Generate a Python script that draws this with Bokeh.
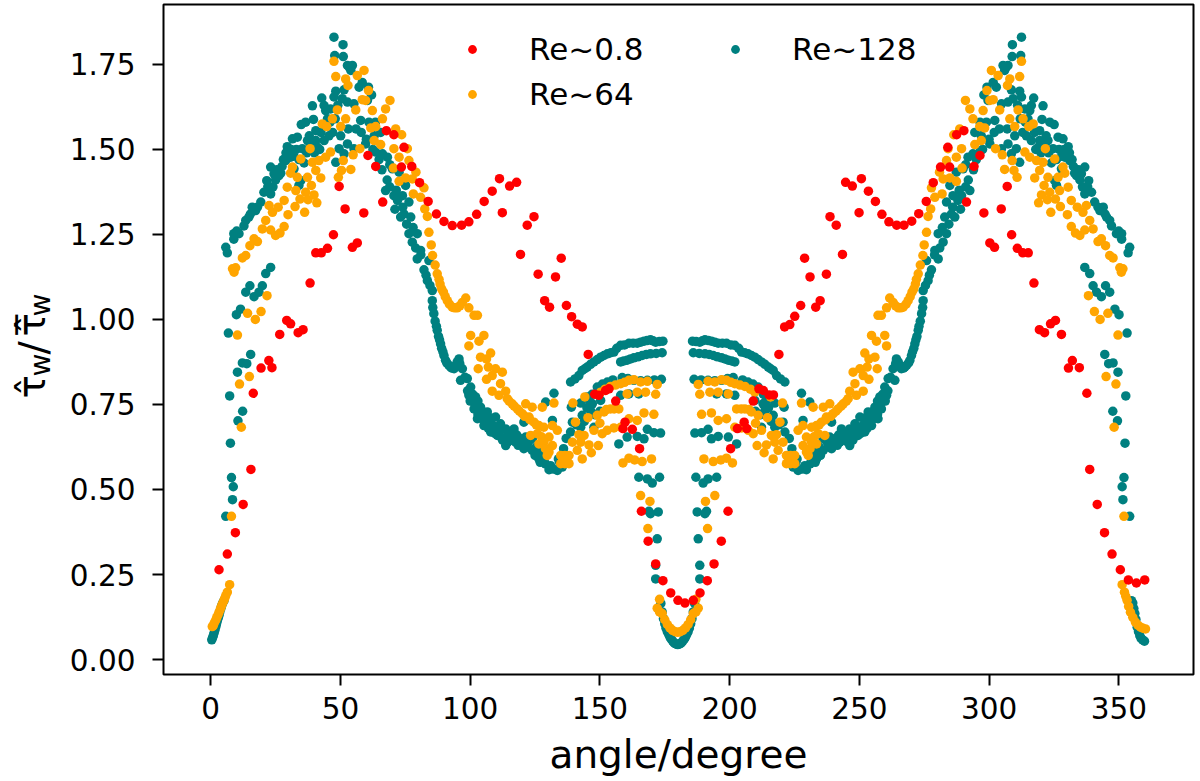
from bokeh.plotting import figure
from bokeh.layouts import row
from bokeh.core.properties import value
from bokeh.models import Legend, LegendItem, FixedTicker, NumeralTickFormatter, Range1d
from bokeh.embed import file_html
from bokeh.resources import INLINE

x_ticks = [0, 50, 100, 150, 200, 250, 300, 350]
y_ticks = [0.0, 0.25, 0.5, 0.75, 1.0, 1.25, 1.5, 1.75]
legend_labels = ["Re~0.8", "Re~64", "Re~128"]

red_left = [(3.2,.264),(6.4,.31),(9.5,.373),(12.5,.456),(15.5,.559),(16.4,.783),(19.4,.857),(22.4,.879),(23.6,.858),(26.6,.956),(29.3,.997),(30.8,.987),(33.7,.961),(35.6,.97),(38.3,1.107),(40.5,1.196),(42.6,1.196),(45,1.209),(47.3,1.249),(49.5,1.391),(51.8,1.325),(54.6,1.212),(56.5,1.225),(59,1.313),(60.6,1.482),(63.6,1.45),(66.3,1.345),(67.7,1.555),(70.6,1.543),(73.5,1.448),(74.5,1.506),(77.5,1.45),(80.5,1.402),(83.8,1.347),(87,1.31),(89.9,1.288),(93.1,1.276),(96.7,1.277),(99.5,1.287),(102.5,1.309),(105.4,1.347),(108.5,1.377),(111.3,1.414),(112.4,1.314),(115.2,1.392),(117.9,1.403),(119.4,1.191),(122,1.277),(124.6,1.302),(126.2,1.133),(128.7,1.055),(130.6,1.036),(132.9,1.125),(135.1,1.18),(137.1,1.041),(139.1,1.008),(141.3,.986),(143.2,.978),(145.5,.897),(148,.78),(149.6,.777),(152.2,.791),(153.5,.796),(156.1,.76),(158.9,.679),(159.7,.698),(162.5,.677),(165.3,.62),(166,.436),(168.6,.348),(171.5,.281),(174.3,.232),(177.3,.196),(180.1,.174),(182.8,.166)]
red_right = [(186,.174),(188.6,.196),(191.4,.232),(194,.281),(196.8,.348),(199.4,.436),(200.4,.62),(203,.679),(205.6,.698),(206.6,.679),(209.1,.76),(211.3,.796),(213,.791),(215.2,.778),(216.9,.778),(219,.897),(221.2,.978),(223.2,.985),(225.1,1.009),(227.4,1.041),(228.9,1.18),(231,1.125),(233.2,1.036),(234.9,1.055),(237.3,1.133),(238.7,1.302),(241.1,1.277),(243.5,1.191),(244.7,1.403),(247.3,1.392),(249.9,1.314),(250.8,1.414),(253.5,1.377),(256.2,1.347),(258.7,1.309),(261.4,1.287),(264.4,1.277),(267.2,1.277),(270.2,1.289),(272.9,1.311),(275.8,1.347),(278.5,1.402),(281.3,1.448),(284.1,1.506),(284.8,1.448),(287.5,1.543),(290.3,1.555),(291.3,1.345),(294.2,1.45),(296.5,1.482),(298,1.313),(300.3,1.225),(302.1,1.212),(304.7,1.325),(307,1.391),(308.7,1.249),(310.9,1.209),(313,1.196),(315.1,1.196),(317.3,1.107),(319.4,.97),(321.4,.961),(323.7,.987),(325.6,.997),(327.9,.956),(330.6,.857),(332.1,.879),(334.8,.858),(337.7,.783),(338.8,.559),(341.7,.456),(344.5,.373),(347.4,.31),(350.6,.264),(353.7,.234),(356.8,.225),(360,.234)]

orange_left = [(.6,.097),(1,.1),(1.4,.108),(1.9,.115),(2.3,.123),(2.8,.131),(3.2,.139),(3.7,.148),(4.1,.156),(4.5,.164),(5,.172),(5.4,.18),(5.8,.188),(6.4,.198),(7.3,.22),(8,.421),(11.8,.683),(11.1,.81),(14.9,.832),(10.3,.954),(14.2,1.018),(17.2,1,),(19.4,1.023),(21.7,1.07),(8.4,1.149),(9.6,1.152),(9,1.139),(12.2,1.181),(13.5,1.188),(15.1,1.217),(16.7,1.237),(18,1.229),(19.9,1.266),(21.2,1.291),(23.1,1.263),(25,1.247),(26.7,1.254),(28.3,1.273),(22.5,1.335),(23.8,1.315),(26,1.33),(28.3,1.35),(29.8,1.308),(29.5,1.389),(32.5,1.332),(32.8,1.379),(34.4,1.354),(36.2,1.315),(36.6,1.374),(37.5,1.352),(38.8,1.394),(39.8,1.366),(40.9,1.343),(30.8,1.43),(31.5,1.448),(33.4,1.418),(34.7,1.472),(37.3,1.418),(39.2,1.462),(40.5,1.438),(41.7,1.467),(42.4,1.416),(44.3,1.477),(46.2,1.492),(38.3,1.502),(43,1.575),(44.7,1.567),(46.9,1.59),(48.8,1.616),(50.1,1.567),(52,1.59),(49.2,1.418),(50.4,1.438),(51.1,1.467),(54,1.441),(54.9,1.484),(57.5,1.502),(55.9,1.616),(47.5,1.759),(48.2,1.714),(52,1.707),(52.9,1.688),(56.5,1.717),(59.1,1.732),(60.8,1.673),(58.4,1.646),(59.7,1.644),(69.1,1.644),(67.4,1.619),(62.3,1.614),(66.2,1.59),(63.6,1.567),(61.7,1.563),(71.3,1.56),(73.6,1.543),(63,1.526),(65.5,1.514),(70.6,1.502),(75.8,1.502),(72.6,1.477),(76.4,1.467),(70.4,1.445),(79.1,1.433),(77.7,1.413),(72.6,1.406),(75.1,1.416),(82.2,1.387),(78.1,1.369),(80.9,1.359),(82.5,1.325),(83.5,1.303),(84.1,1.256),(85,1.219),(85.5,1.188),(86.5,1.16),(87.3,1.134),(88,1.118),(88.4,1.104),(89,1.09),(89.7,1.08),(90.4,1.067),(91.2,1.055),(92,1.045),(93.1,1.036),(94,1.034),(95,1.034),(96,1.04),(97,1.05),(98.3,1.063),(99.5,1.034),(101.5,1.012),(102.8,1.012),(100.2,.953),(105.3,.953),(103.4,.936),(99.5,.922),(107.9,.901),(104,.889),(106.3,.884),(103.1,.855),(107,.86),(109.8,.855),(112.4,.845),(108.5,.835),(106.3,.824),(111.7,.811),(108.5,.789),(113.7,.789),(111.1,.777),(114.3,.767),(115,.76),(116.2,.752),(117,.745),(118.2,.737),(119,.73),(121.4,.752),(123.9,.742),(120.1,.723),(121,.715),(122.7,.713),(123,.705),(124.6,.698),(125.5,.69),(127.8,.742),(126.5,.688),(128.4,.683),(131.7,.688),(133.6,.674),(123.3,.659),(125.9,.664),(127.5,.655),(130.4,.654),(126.5,.634),(128.4,.639),(129,.62),(131.7,.629),(130.4,.61),(129.7,.6),(134.9,.6),(136.5,.6),(138.1,.6),(134.9,.576),(135.7,.59),(136.5,.576),(137.3,.59),(138.1,.576),(139.4,.639),(142.6,.639),(141.3,.615),(143.2,.59),(146.7,.608),(149.4,.629),(145.8,.631),(132.3,.754),(139.6,.754),(144.2,.772),(140.6,.698),(145.4,.711),(141.9,.661),(143.9,.659),(147.7,.674),(150,.695),(149,.718),(151.6,.728),(152.5,.735),(154.1,.737),(155.5,.737),(157.3,.737),(150.9,.664),(152.8,.674),(155.4,.681),(158,.683),(161.2,.708),(164.4,.703),(167,.725),(170.8,.721),(150.3,.786),(152,.795),(154.1,.803),(156,.807),(158,.811),(159.5,.815),(161.2,.821),(163.1,.823),(165.7,.816),(168.3,.818),(172.1,.809),(160.5,.781),(164.4,.786),(167.6,.786),(171.5,.78),(158.9,.578),(161.2,.592),(163.4,.587),(166.3,.582),(169.9,.59),(165.7,.482),(169.3,.465),(168.5,.385),(173,.177),(172.1,.151),(173,.14),(174,.135),(175,.117),(176,.103),(177,.093),(178,.086),(179,.082),(180,.08)]
orange_right = [(181,.082),(182,.086),(183,.093),(184,.103),(185,.117),(186,.135),(187,.14),(187.9,.151),(187,.177),(191.5,.385),(190.7,.465),(194.3,.482),(190.1,.59),(193.7,.582),(196.6,.587),(198.8,.592),(201.1,.578),(188.5,.78),(192.4,.786),(195.6,.786),(199.5,.781),(187.9,.809),(191.7,.818),(194.3,.816),(196.9,.823),(198.8,.821),(200.5,.815),(202,.811),(204,.807),(205.9,.803),(208,.795),(209.7,.786),(189.2,.721),(193,.725),(195.6,.703),(198.8,.708),(202,.683),(204.6,.681),(207.2,.674),(209.1,.664),(202.7,.737),(204.5,.737),(205.9,.737),(207.5,.735),(208.4,.728),(211,.718),(210,.695),(212.3,.674),(216.1,.659),(218.1,.661),(214.6,.711),(219.4,.698),(215.8,.772),(220.4,.754),(227.7,.754),(214.2,.631),(210.6,.629),(213.3,.608),(216.8,.59),(218.7,.615),(217.4,.639),(220.6,.639),(221.9,.576),(222.7,.59),(223.5,.576),(224.3,.59),(225.1,.576),(221.9,.6),(223.5,.6),(225.1,.6),(230.3,.6),(229.6,.61),(228.3,.629),(231,.62),(231.6,.639),(233.5,.634),(229.6,.654),(232.5,.655),(234.1,.664),(236.7,.659),(226.4,.674),(228.3,.688),(231.6,.683),(233.5,.688),(232.2,.742),(234.5,.69),(235.4,.698),(237,.705),(237.3,.713),(239,.715),(239.9,.723),(236.1,.742),(238.6,.752),(241,.73),(241.8,.737),(243,.745),(243.8,.752),(245,.76),(245.7,.767),(248.9,.777),(246.3,.789),(251.5,.789),(248.3,.811),(253.7,.824),(251.5,.835),(247.6,.845),(250.2,.855),(253,.86),(256.9,.855),(253.7,.884),(256,.889),(252.1,.901),(260.5,.922),(256.6,.936),(254.7,.953),(259.8,.953),(257.2,1.012),(258.5,1.012),(260.5,1.034),(261.7,1.063),(263,1.05),(264,1.04),(265,1.034),(266,1.034),(266.9,1.036),(268,1.045),(268.8,1.055),(269.6,1.067),(270.3,1.08),(271,1.09),(271.6,1.104),(272,1.118),(272.7,1.134),(273.5,1.16),(274.5,1.188),(275,1.219),(275.9,1.256),(276.5,1.303),(277.5,1.325),(279.1,1.359),(281.9,1.369),(277.8,1.387),(284.9,1.416),(287.4,1.406),(282.3,1.413),(280.9,1.433),(289.6,1.445),(283.6,1.467),(287.4,1.477),(284.2,1.502),(289.4,1.502),(294.5,1.514),(297,1.526),(286.4,1.543),(288.7,1.56),(298.3,1.563),(296.4,1.567),(293.8,1.59),(297.7,1.614),(292.6,1.619),(290.9,1.644),(300.3,1.644),(301.6,1.646),(299.2,1.673),(300.9,1.732),(303.5,1.717),(307.1,1.688),(308,1.707),(311.8,1.714),(312.5,1.759),(304.1,1.616),(302.5,1.502),(305.1,1.484),(306,1.441),(308.9,1.467),(309.6,1.438),(310.8,1.418),(308,1.59),(309.9,1.567),(311.2,1.616),(313.1,1.59),(315.3,1.567),(317,1.575),(321.7,1.502),(313.8,1.492),(315.7,1.477),(317.6,1.416),(318.3,1.467),(319.5,1.438),(320.8,1.462),(322.7,1.418),(325.3,1.472),(326.6,1.418),(328.5,1.448),(329.2,1.43),(319.1,1.343),(320.2,1.366),(321.2,1.394),(322.5,1.352),(323.4,1.374),(323.8,1.315),(325.6,1.354),(327.2,1.379),(327.5,1.332),(330.5,1.389),(330.2,1.308),(331.7,1.35),(334,1.33),(336.2,1.315),(337.5,1.335),(331.7,1.273),(333.3,1.254),(335,1.247),(336.9,1.263),(338.8,1.291),(340.1,1.266),(342,1.229),(343.3,1.237),(344.9,1.217),(346.5,1.188),(347.8,1.181),(350.4,1.152),(351.6,1.149),(351,1.139),(338.3,1.07),(340.6,1.023),(342.8,1,),(345.8,1.018),(349.7,.954),(345.1,.832),(348.9,.81),(348.2,.683),(352,.421),(351.3,.22),(352.2,.198),(352.7,.186),(353.2,.174),(353.8,.156),(354.5,.139),(355.4,.124),(356.4,.11),(357.4,.101),(358.4,.095),(359.3,.092),(360.3,.09)]

teal_left = [(.4,.058),(.7,.064),(1,.07),(1.3,.078),(1.6,.086),(1.9,.095),(2.2,.103),(2.5,.112),(2.9,.122),(3.2,.13),(3.5,.14),(3.9,.15),(4.2,.158),(4.6,.166),(5.1,.173),(5.8,.421),(8.4,.47),(8.7,.508),(8,.535),(7.6,.636),(10.5,.702),(12.3,.73),(7.3,.775),(10.3,.845),(12.2,.872),(13.9,.87),(15.4,.897),(6.8,.96),(9.9,1.014),(11.5,1.03),(16.7,1.067),(13.5,1.08),(18.6,1.08),(15.1,1.099),(19.9,1.099),(21.2,1.135),(23.1,1.153),(5.8,1.212),(6.4,1.196),(8.9,1.252),(8.9,1.236),(10,1.26),(10.9,1.252),(12.8,1.275),(13.5,1.291),(14.7,1.301),(15.3,1.31),(16,1.33),(17.3,1.32),(18,1.33),(19.3,1.345),(20.5,1.374),(22,1.39),(23.1,1.369),(21.6,1.408),(23.1,1.448),(24.4,1.428),(25.5,1.44),(26.3,1.423),(27.5,1.45),(28.9,1.467),(30,1.49),(30.8,1.477),(32.1,1.443),(34.7,1.408),(34,1.394),(33,1.5),(37,1.49),(38.5,1.51),(42.5,1.55),(45,1.59),(47,1.55),(29.5,1.508),(31.5,1.531),(33.4,1.536),(34.9,1.573),(36.6,1.58),(39.6,1.588),(35.3,1.502),(37.3,1.526),(40.5,1.526),(40.5,1.555),(41.1,1.506),(43.7,1.526),(45.6,1.54),(39.2,1.628),(42.8,1.651),(43.7,1.629),(44.3,1.614),(46.2,1.619),(47.5,1.654),(48.2,1.671),(51.4,1.675),(50.7,1.649),(52.7,1.639),(55.2,1.634),(60.4,1.644),(57.8,1.585),(50.1,1.54),(49.5,1.502),(52.7,1.516),(55.2,1.502),(59.7,1.516),(48.2,1.462),(51.4,1.487),(47.5,1.83),(51,1.808),(47.8,1.776),(51.1,1.773),(52.7,1.747),(54.6,1.747),(54,1.732),(53.5,1.74),(58.4,1.697),(57.2,1.683),(60.8,1.683),(62,1.66),(63.5,1.58),(65.5,1.55),(60,1.53),(62.5,1.5),(63.6,1.492),(64.9,1.47),(66.2,1.487),(68.1,1.477),(69,1.455),(70,1.443),(72.6,1.433),(68,1.41),(75.1,1.394),(71.5,1.38),(67.4,1.379),(70.6,1.364),(73.9,1.364),(76.4,1.345),(74,1.33),(71,1.324),(73.2,1.301),(75.5,1.28),(77.1,1.301),(78,1.27),(76.4,1.252),(79.6,1.252),(77.7,1.227),(79,1.21),(80.9,1.203),(81,1.19),(79.6,1.178),(84.1,1.173),(82.2,1.146),(83,1.13),(83.5,1.114),(84.5,1.1),(85.4,1.085),(85.4,1.055),(86,1.017),(87.3,.968),(88.6,.928),(89.9,.894),(91.8,.865),(93.8,.855),(95.7,.884),(97,.855),(96.3,.821),(98,.83),(98.9,.826),(100.2,.801),(99.5,.777),(101,.78),(102.1,.772),(103,.76),(101.5,.737),(103,.72),(104,.742),(105,.72),(106.6,.728),(102.8,.708),(107,.7),(108,.71),(109.8,.713),(111.7,.693),(105.3,.688),(107.9,.669),(110,.68),(110.5,.659),(112,.675),(113.7,.678),(114,.655),(116.9,.678),(120.7,.698),(113.7,.629),(116,.645),(116.9,.664),(118,.66),(119.5,.649),(121.4,.654),(117.5,.639),(120,.63),(120.7,.62),(122,.625),(123.9,.615),(124,.65),(125,.6),(127.2,.61),(126.5,.59),(127,.58),(128.4,.585),(129,.575),(130.4,.558),(132,.56),(133.6,.556),(134,.59),(135.5,.566),(129.1,.757),(132.3,.783),(131.7,.703),(137,.6),(136,.62),(137,.65),(138.7,.669),(138.7,.816),(141.9,.835),(143.2,.85),(145.1,.86),(147.7,.875),(150.3,.889),(152.9,.899),(155.4,.904),(158,.924),(161.2,.93),(164.4,.93),(167,.936),(169.5,.94),(171.5,.933),(174.3,.936),(158,.875),(160.5,.88),(163.1,.887),(166.3,.894),(169.5,.899),(174,.902),(139,.742),(142.6,.754),(145.1,.772),(147,.78),(149,.801),(152.9,.816),(158.6,.829),(163.1,.821),(168.3,.821),(173.7,.824),(139.4,.698),(141,.69),(143.2,.718),(144,.7),(145,.74),(146,.76),(147.1,.752),(148,.72),(150,.73),(150.3,.762),(158,.777),(161.2,.781),(165,.781),(142.6,.683),(147.7,.683),(146.4,.732),(157.3,.634),(160.5,.654),(164.4,.656),(167,.649),(168.3,.677),(170.8,.667),(173.4,.666),(165,.536),(168.3,.531),(170.2,.519),(173,.536),(168.9,.436),(169.5,.429),(172.5,.434),(172.1,.355),(171.5,.277),(171.5,.237),(173.5,.165),(174,.14),(174.5,.12),(175,.105),(175.5,.092),(176,.082),(176.5,.074),(177,.066),(177.5,.06),(178,.055),(178.5,.05),(179,.047),(179.5,.045),(180,.044)]
teal_left_dense = [(85.6,1.035),(86.5,.995),(87,.98),(87.8,.95),(88.2,.94),(89,.915),(89.5,.905),(90.5,.88),(91,.872),(92.5,.86),(93,.857),(94.5,.865),(95,.875),(96,.87),(99,.79),(100,.76),(101.5,.755),(102.5,.745),(104,.72),(105,.705),(106,.71),(107,.68),(108.5,.69),(109.5,.665),(111,.66),(112.5,.645),(114.5,.64),(115.5,.665),(118.5,.63),(122.5,.64),(125.5,.625),(128,.6),(131,.57),(134.5,.58),(156.5,.915),(159.5,.925),(162.8,.93),(165.7,.933),(168.2,.938),(170.5,.937),(172.9,.935),(159.2,.878),(161.8,.884),(164.7,.89),(167.9,.897),(171.7,.9),(140.4,.825),(144.2,.855),(146.4,.868),(149,.882),(151.6,.894),(154.2,.902),(151,.81),(155,.822),(160.8,.826),(165.7,.82),(171,.822),(24,1.39),(25,1.41),(27,1.43),(28,1.47),(29,1.49),(31,1.5),(32,1.48),(34,1.47),(36,1.46),(38,1.54),(40,1.49),(42,1.5),(44,1.57),(46,1.58),(48,1.59),(49,1.63),(53,1.56),(56,1.56),(58,1.55),(61,1.58),(63,1.54),(66,1.44),(69,1.39),(72,1.35),(74.5,1.31)]
teal_right = [(180.5,.045),(181,.047),(181.5,.05),(182,.055),(182.5,.06),(183,.066),(183.5,.074),(184,.082),(184.5,.092),(185,.105),(185.5,.12),(186,.14),(186.5,.165),(188.5,.237),(188.5,.277),(187.9,.355),(187.5,.434),(190.5,.429),(191.1,.436),(187,.536),(189.8,.519),(191.7,.531),(195,.536),(186.6,.666),(189.2,.667),(191.7,.677),(193,.649),(195.6,.656),(199.5,.654),(202.7,.634),(213.6,.732),(212.3,.683),(217.4,.683),(195,.781),(198.8,.781),(202,.777),(209.7,.762),(210,.73),(212,.72),(212.9,.752),(214,.76),(215,.74),(216,.7),(216.8,.718),(219,.69),(220.6,.698),(186.3,.824),(191.7,.821),(196.9,.821),(201.4,.829),(207.1,.816),(211,.801),(213,.78),(214.9,.772),(217.4,.754),(221,.742),(186,.902),(190.5,.899),(193.7,.894),(196.9,.887),(199.5,.88),(202,.875),(185.7,.936),(188.5,.933),(190.5,.94),(193,.936),(195.6,.93),(198.8,.93),(202,.924),(204.6,.904),(207.1,.899),(209.7,.889),(212.3,.875),(214.9,.86),(216.8,.85),(218.1,.835),(221.3,.816),(221.3,.669),(223,.65),(224,.62),(223,.6),(228.3,.703),(227.7,.783),(230.9,.757),(224.5,.566),(226,.59),(226.4,.556),(228,.56),(229.6,.558),(231,.575),(231.6,.585),(233,.58),(233.5,.59),(232.8,.61),(235,.6),(236,.65),(236.1,.615),(238,.625),(239.3,.62),(240,.63),(242.5,.639),(238.6,.654),(240.5,.649),(242,.66),(243.1,.664),(244,.645),(246.3,.629),(239.3,.698),(243.1,.678),(246,.655),(246.3,.678),(248,.675),(249.5,.659),(250,.68),(252.1,.669),(254.7,.688),(248.3,.693),(250.2,.713),(252,.71),(253,.7),(253.4,.728),(255,.72),(256,.742),(257,.72),(257.2,.708),(258.5,.737),(257,.76),(257.9,.772),(259,.78),(260.5,.777),(259.8,.801),(261.1,.826),(262,.83),(263.7,.821),(263,.855),(264.3,.884),(266.2,.855),(268.2,.865),(270.1,.894),(271.4,.928),(272.7,.968),(274,1.017),(274.6,1.055),(274.6,1.085),(275.5,1.1),(276.5,1.114),(277,1.13),(277.8,1.146),(275.9,1.173),(280.4,1.178),(279,1.19),(279.1,1.203),(281,1.21),(282.3,1.227),(280.4,1.252),(283.6,1.252),(282,1.27),(282.9,1.301),(284.5,1.28),(286.8,1.301),(289,1.324),(286,1.33),(283.6,1.345),(286.1,1.364),(289.4,1.364),(292.6,1.379),(288.5,1.38),(284.9,1.394),(292,1.41),(287.4,1.433),(290,1.443),(291,1.455),(291.9,1.477),(293.8,1.487),(295.1,1.47),(296.4,1.492),(297.5,1.5),(300,1.53),(294.5,1.55),(296.5,1.58),(298,1.66),(299.2,1.683),(302.8,1.683),(301.6,1.697),(306.5,1.74),(306,1.732),(305.4,1.747),(307.3,1.747),(308.9,1.773),(312.2,1.776),(309,1.808),(312.5,1.83),(308.6,1.487),(311.8,1.462),(300.3,1.516),(304.8,1.502),(307.3,1.516),(310.5,1.502),(309.9,1.54),(302.2,1.585),(299.6,1.644),(304.8,1.634),(307.3,1.639),(309.3,1.649),(308.6,1.675),(311.8,1.671),(312.5,1.654),(313.8,1.619),(315.7,1.614),(316.3,1.629),(317.2,1.651),(320.8,1.628),(314.4,1.54),(316.3,1.526),(318.9,1.506),(319.5,1.555),(319.5,1.526),(322.7,1.526),(324.7,1.502),(320.4,1.588),(323.4,1.58),(325.1,1.573),(326.6,1.536),(328.5,1.531),(330.5,1.508),(313,1.55),(315,1.59),(317.5,1.55),(321.5,1.51),(323,1.49),(327,1.5),(326,1.394),(325.3,1.408),(327.9,1.443),(329.2,1.477),(330,1.49),(331.1,1.467),(332.5,1.45),(333.7,1.423),(334.5,1.44),(335.6,1.428),(336.9,1.448),(338.4,1.408),(336.9,1.369),(338,1.39),(339.5,1.374),(340.7,1.345),(342,1.33),(342.7,1.32),(344,1.33),(344.7,1.31),(345.3,1.301),(346.5,1.291),(347.2,1.275),(349.1,1.252),(350,1.26),(351.1,1.236),(351.1,1.252),(353.6,1.196),(354.2,1.212),(336.9,1.153),(338.8,1.135),(340.1,1.099),(344.9,1.099),(341.4,1.08),(346.5,1.08),(343.3,1.067),(348.5,1.03),(350.1,1.014),(353.2,.96),(344.6,.897),(346.1,.87),(347.8,.872),(349.7,.845),(352.7,.775),(347.7,.73),(349.5,.702),(352.4,.636),(352,.535),(351.3,.508),(351.6,.47),(354.2,.421),(354.9,.173),(355.4,.166),(355.8,.15),(356.2,.135),(356.6,.118),(357.1,.095),(357.6,.082),(358.1,.07),(358.6,.062),(359.2,.058),(359.9,.054)]
teal_right_dense = [(274.4,1.035),(273.5,.995),(273,.98),(272.2,.95),(271.8,.94),(271,.915),(270.5,.905),(269.5,.88),(269,.872),(267.5,.86),(267,.857),(265.5,.865),(265,.875),(264,.87),(261,.79),(260,.76),(258.5,.755),(257.5,.745),(256,.72),(255,.705),(254,.71),(253,.68),(251.5,.69),(250.5,.665),(249,.66),(247.5,.645),(245.5,.64),(244.5,.665),(241.5,.63),(237.5,.64),(234.5,.625),(232,.6),(229,.57),(225.5,.58),(203.5,.915),(200.5,.925),(197.2,.93),(194.3,.933),(191.8,.938),(189.5,.937),(187.1,.935),(200.8,.878),(198.2,.884),(195.3,.89),(192.1,.897),(188.3,.9),(219.6,.825),(215.8,.855),(213.6,.868),(211,.882),(208.4,.894),(205.8,.902),(209,.81),(205,.822),(199.2,.826),(194.3,.82),(189,.822),(336,1.39),(335,1.41),(333,1.43),(332,1.47),(331,1.49),(329,1.5),(328,1.48),(326,1.47),(324,1.46),(322,1.54),(320,1.49),(318,1.5),(316,1.57),(314,1.58),(312,1.59),(311,1.63),(307,1.56),(304,1.56),(302,1.55),(299,1.58),(297,1.54),(294,1.44),(291,1.39),(288,1.35),(285.5,1.31)]

TEAL, ORANGE, RED = "#008080", "#ffa500", "#ff0000"

p = figure(frame_width=1030, frame_height=670, width=1129, height=776,
           x_range=Range1d(-18.2, 378.8), y_range=Range1d(-0.044, 1.926),
           min_border_left=97, min_border_right=2, min_border_top=4, min_border_bottom=102,
           output_backend="svg", toolbar_location=None,
           background_fill_color="white", border_fill_color="white")

def draw(pts, color):
    return p.scatter([a for a, _ in pts], [b for _, b in pts], size=9.5, color=color, line_color=color, line_width=0)

r_teal = draw(teal_left + teal_left_dense + teal_right + teal_right_dense, TEAL)
r_orange = draw(orange_left + orange_right, ORANGE)
r_red = draw(red_left + red_right, RED)

p.xgrid.visible = False
p.ygrid.visible = False
p.outline_line_color = "black"
p.outline_line_width = 2
p.xaxis.ticker = FixedTicker(ticks=x_ticks)
p.yaxis.ticker = FixedTicker(ticks=y_ticks)
p.yaxis.formatter = NumeralTickFormatter(format="0.00")
for ax in (p.xaxis[0], p.yaxis[0]):
    ax.axis_line_color = None
    ax.major_tick_in = 0
    ax.major_tick_out = 11
    ax.major_tick_line_width = 2
    ax.major_tick_line_color = "black"
    ax.minor_tick_line_color = None
    ax.major_label_text_font = "DejaVu Sans"
    ax.major_label_text_font_size = "29.5px"
    ax.major_label_text_color = "black"
p.xaxis[0].major_label_standoff = 11
p.yaxis[0].major_label_standoff = 17
p.xaxis.axis_label = "angle/degree"
p.xaxis.axis_label_text_font = "DejaVu Sans"
p.xaxis.axis_label_text_font_size = "39px"
p.xaxis.axis_label_text_font_style = "normal"
p.xaxis.axis_label_text_color = "black"
p.xaxis.axis_label_standoff = 10

legend = Legend(items=[LegendItem(label=legend_labels[0], renderers=[r_red]),
                       LegendItem(label=legend_labels[1], renderers=[r_orange]),
                       LegendItem(label=legend_labels[2], renderers=[r_teal])],
                location=(279, 558), orientation="vertical", ncols=2,
                border_line_color=None, background_fill_alpha=0,
                label_text_font="DejaVu Sans", label_text_font_size="31px", label_text_color="black",
                glyph_width=60, glyph_height=22, label_height=45, label_width=176,
                label_standoff=27, spacing=0, padding=0, margin=0)
p.add_layout(legend)

# narrow strip left of the plot that carries the y-axis title (frame-clipped annotations cannot reach there)
strip = figure(frame_width=66, frame_height=776, width=66, height=776,
               x_range=Range1d(0, 66), y_range=Range1d(776, 0),
               x_axis_location=None, y_axis_location=None, min_border=0,
               output_backend="svg", toolbar_location=None, outline_line_color=None)
strip.xgrid.visible = False
strip.ygrid.visible = False

def ylab(text, x, y, size):
    strip.text([x], [y], text=[text], angle=1.5708, text_font=value("DejaVu Sans"), text_font_size=value(size),
               text_color="black", text_baseline="alphabetic", text_align="left")

ylab("\u03c4\u0302", 31, 394, "39px")
ylab("w", 40, 372, "28px")
ylab("/", 33, 350, "39px")
ylab("\u03c4\u0302\u0305", 31, 332, "39px")
ylab("w", 40, 312, "28px")

open("out.html", "w").write(file_html(row(strip, p, spacing=0), INLINE))
